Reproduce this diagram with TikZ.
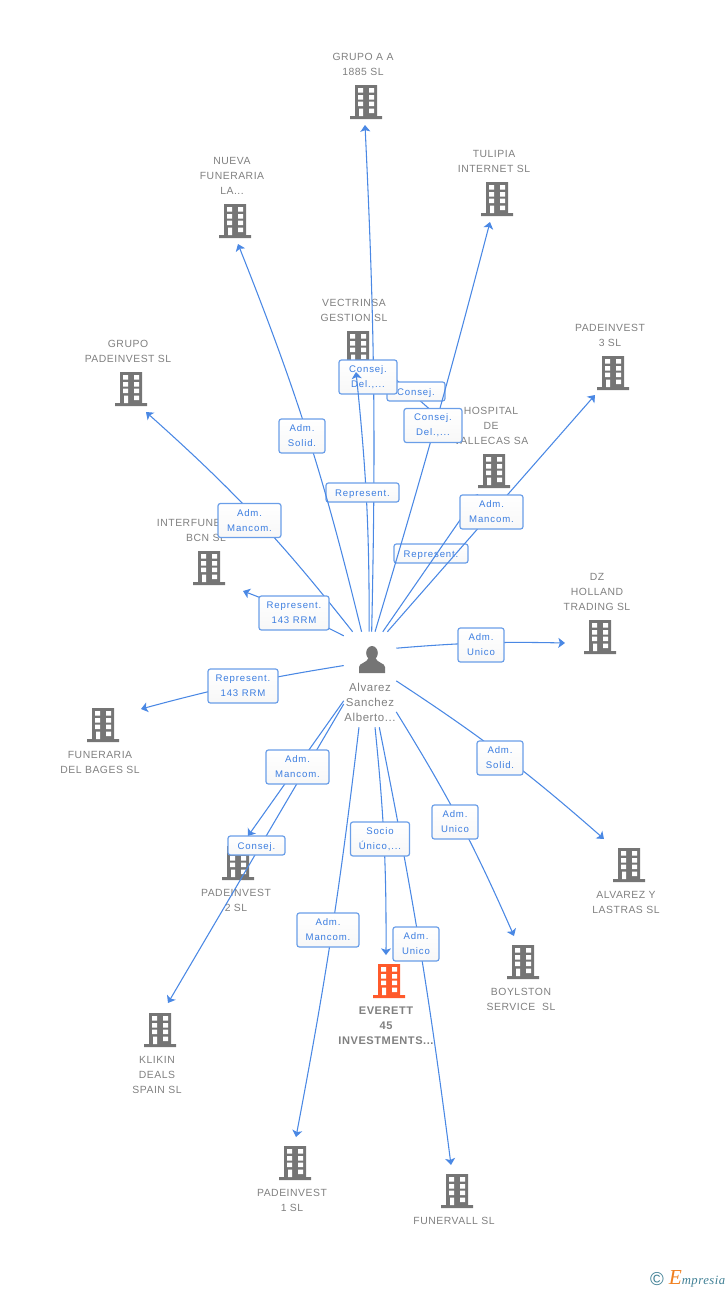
\documentclass[tikz,border=0pt]{standalone}
\usepackage{fontspec}
\setmainfont{Liberation Sans}
\newfontfamily\labelfont[LetterSpace=5]{Liberation Sans}
\newfontfamily\boxfont[LetterSpace=9]{Liberation Sans}
\newfontfamily\logofont[LetterSpace=4]{Liberation Serif}
\usetikzlibrary{arrows.meta}

\definecolor{linkblue}{HTML}{4A88E4}
\definecolor{boxline}{HTML}{6A9EE8}
\definecolor{boxtext}{HTML}{3B7DE0}
\definecolor{bldgray}{HTML}{757575}
\definecolor{namegray}{HTML}{808080}
\definecolor{bldorange}{HTML}{FF5A2B}
\definecolor{logoteal}{HTML}{3F7F94}
\definecolor{logoorange}{HTML}{F08020}

\tikzset{
    link/.style={draw=linkblue, line width=.8pt, -{Stealth[length=5pt, width=7.5pt, inset=1.2pt]}},
    stub/.style={draw=linkblue, line width=.8pt},
    relbox/.style={draw=boxline, line width=.9pt, rounded corners=1.8pt, top color=white, bottom color=black!3,
        align=center, inner sep=0pt, minimum height=25.5pt, minimum width=#1*.75pt,
        text=boxtext, font=\boxfont\fontsize{7.2}{11.25}\selectfont,
        execute at begin node={\rule{0pt}{7pt}}},
    onerow/.style={minimum height=14.25pt},
    compname/.style={align=center, inner sep=0pt, yshift=-.75pt, text=namegray, font=\labelfont\fontsize{7.8}{11.25}\selectfont},
    building/.pic={
        \fill[pic actions] (-11,-34) rectangle (11,-3) (-16,-3) rectangle (16,0);
        \fill[white] (-8,-31) rectangle (-3,-26.5) (3,-31) rectangle (8,-26.5)
            (-8,-24) rectangle (-3,-19.5) (3,-24) rectangle (8,-19.5)
            (-8,-17.5) rectangle (-3,-13) (3,-17.5) rectangle (8,-13)
            (-7,-10.5) rectangle (-3,-3) (3,-10.5) rectangle (8,-6);
    },
    personicon/.pic={
        \fill[bldgray] (0,-7) circle [x radius=5.8, y radius=7];
        \fill[bldgray] (-13,13) -- (-13,7) .. controls (-13,3) and (-5,3) .. (-3.5,-2) -- (3.5,-2)
            .. controls (5,3) and (13,3) .. (13,7) -- (13,13) -- cycle;
    }
}

\begin{document}
\begin{tikzpicture}[x=.75pt, y=-.75pt]
    \useasboundingbox (0,0) rectangle (728,1290);

    % companies
    \draw [compname] (363, 63.5) node (nameGrupoA) {GRUPO A A\\1885 SL};
    \pic [fill=bldgray] (bldGrupoA) at (366, 119) {building};
    \draw [compname] (232, 175) node (nameNueva) {NUEVA\\FUNERARIA\\LA...};
    \pic [fill=bldgray] (bldNueva) at (235, 238) {building};
    \draw [compname] (494, 160.5) node (nameTulipia) {TULIPIA\\INTERNET SL};
    \pic [fill=bldgray] (bldTulipia) at (497, 216) {building};
    \draw [compname] (354, 309.5) node (nameVectrinsa) {VECTRINSA\\GESTION SL};
    \pic [fill=bldgray] (bldVectrinsa) at (358, 365) {building};
    \draw [compname] (128, 350.5) node (nameGrupoPad) {GRUPO\\PADEINVEST SL};
    \pic [fill=bldgray] (bldGrupoPad) at (131, 406) {building};
    \draw [compname] (610, 334.5) node (namePadTres) {PADEINVEST\\3 SL};
    \pic [fill=bldgray] (bldPadTres) at (613, 390) {building};
    \draw [compname] (491, 425) node (nameHospital) {HOSPITAL\\DE\\VALLECAS SA};
    \pic [fill=bldgray] (bldHospital) at (494, 488) {building};
    \draw [compname] (206, 529.5) node (nameInterfun) {INTERFUNERARIA\\BCN SL};
    \pic [fill=bldgray] (bldInterfun) at (209, 585) {building};
    \draw [compname] (597, 591) node (nameHolland) {DZ\\HOLLAND\\TRADING SL};
    \pic [fill=bldgray] (bldHolland) at (600, 654) {building};
    \draw [compname] (100, 761.5) node (nameBages) {FUNERARIA\\DEL BAGES SL};
    \pic [fill=bldgray] (bldBages) at (103, 742) {building};
    \draw [compname] (626, 901.5) node (nameLastras) {ALVAREZ Y\\LASTRAS SL};
    \pic [fill=bldgray] (bldLastras) at (629, 882) {building};
    \draw [compname] (521, 998.5) node (nameBoylston) {BOYLSTON\\SERVICE\ \ SL};
    \pic [fill=bldgray] (bldBoylston) at (523, 979) {building};
    \draw [compname] (236, 899.5) node (namePadDos) {PADEINVEST\\2 SL};
    \pic [fill=bldgray] (bldPadDos) at (238, 880) {building};
    \draw [compname] (157, 1074) node (nameKlikin) {KLIKIN\\DEALS\\SPAIN SL};
    \pic [fill=bldgray] (bldKlikin) at (160, 1047) {building};
    \draw [compname] (292, 1199.5) node (namePadUno) {PADEINVEST\\1 SL};
    \pic [fill=bldgray] (bldPadUno) at (295, 1180) {building};
    \draw [compname] (454, 1220) node (nameFunervall) {FUNERVALL SL};
    \pic [fill=bldgray] (bldFunervall) at (457, 1208) {building};
    \draw [compname, font=\labelfont\bfseries\fontsize{8.3}{11.25}\selectfont] (386, 1025) node (nameEverett) {EVERETT\\45\\INVESTMENTS...};
    \pic [fill=bldorange] (bldEverett) at (389, 998) {building};

    % person
    \draw (370, 679.5) node (person) [inner sep=0pt, minimum width=39pt, minimum height=71.25pt] {};
    \pic (iconPerson) at (372, 660) {personicon};
    \draw [compname, font=\labelfont\fontsize{8.6}{11.25}\selectfont] (370, 701) node (namePerson) {Alvarez\\Sanchez\\Alberto...};

    % arrow ends
    \coordinate (endGrupoA) at (365, 125);
    \coordinate (endNueva) at (238, 244);
    \coordinate (endTulipia) at (490, 222);
    \coordinate (endVectrinsa) at (356, 372);
    \coordinate (endGrupoPad) at (146, 412);
    \coordinate (endPadTres) at (595, 395);
    \coordinate (endHospital) at (478, 494);
    \coordinate (endInterfun) at (243, 591);
    \coordinate (endHolland) at (565, 643);
    \coordinate (endBages) at (141, 709);
    \coordinate (endLastras) at (604, 839);
    \coordinate (endBoylston) at (514, 936);
    \coordinate (endPadDos) at (248, 836);
    \coordinate (endEverett) at (386, 955);
    \coordinate (endKlikin) at (168, 1003);
    \coordinate (endPadUno) at (296, 1137);
    \coordinate (endFunervall) at (451, 1165);
    \coordinate (stubIn) at (392, 376);
    \coordinate (stubOut) at (434, 413);

    % upper links and boxes, back to front
    \draw [link] (person.88.8) to[bend right=2] (endGrupoA);
    \draw [stub] (stubIn) -- (stubOut);
    \draw (416, 391.5) node (boxConsejB) [relbox=58, onerow] {Consej.};
    \draw (368, 377) node (boxDelA) [relbox=58] {Consej.\\Del.,...};
    \draw [link] (person.91.2) to[bend right=3] (endVectrinsa);
    \draw (362.5, 492.5) node (boxReprA) [relbox=73, onerow] {Represent.};
    \draw (431, 553.5) node (boxReprB) [relbox=74, onerow] {Represent.};
    \draw [link] (person.84) to[bend right=1] (endTulipia);
    \draw [link] (person.75.8) -- (endHospital);
    \draw [link] (person.70.3) -- (endPadTres);
    \draw (433, 425.5) node (boxDelB) [relbox=58] {Consej.\\Del.,...};
    \draw (491.5, 512) node (boxMancomA) [relbox=63] {Adm.\\Mancom.};

    % left links and boxes
    \draw [link] (person.100.7) to[bend right=4] (endNueva);
    \draw (302, 436) node (boxSolidA) [relbox=46] {Adm.\\Solid.};
    \draw [link] (person.110.8) to[bend right=5] (endGrupoPad);
    \draw (249.5, 520.5) node (boxMancomB) [relbox=63] {Adm.\\Mancom.};
    \draw [link] (person.121.5) to[bend right=3] (endInterfun);
    \draw (294, 613) node (boxRrmA) [relbox=70] {Represent.\\143 RRM};
    \draw [link] (person.152.6) to[bend right=3] (endBages);
    \draw (243, 686) node (boxRrmB) [relbox=70] {Represent.\\143 RRM};

    % right links and boxes
    \draw [link] (person.50.5) to[bend left=3] (endHolland);
    \draw (481, 645) node (boxUnicoA) [relbox=46] {Adm.\\Unico};
    \draw [link] (person.-3.3) to[bend left=4] (endLastras);
    \draw (500, 758) node (boxSolidB) [relbox=46] {Adm.\\Solid.};
    \draw [link] (person.-51.3) to[bend left=4] (endBoylston);
    \draw (455, 822) node (boxUnicoB) [relbox=46] {Adm.\\Unico};

    % lower links and boxes
    \draw [link] (person.219.6) -- (endPadDos);
    \draw [link] (person.223.3) -- (endKlikin);
    \draw (297.5, 767) node (boxMancomC) [relbox=63] {Adm.\\Mancom.};
    \draw (256.5, 845.5) node (boxConsejC) [relbox=57, onerow] {Consej.};
    \draw [link] (person.257) to[bend left=2] (endPadUno);
    \draw (328, 930) node (boxMancomD) [relbox=62] {Adm.\\Mancom.};
    \draw [link] (person.276) to[bend left=3] (endEverett);
    \draw [link] (person.281.9) to[bend left=2] (endFunervall);
    \draw (380, 839) node (boxSocio) [relbox=59] {Socio\\Único,...};
    \draw (416, 944) node (boxUnicoC) [relbox=46] {Adm.\\Unico};

    % logo
    \draw (657, 1279) node (logoMark) [inner sep=0pt, text=logoteal, font=\fontsize{14}{14}\selectfont] {©};
    \draw (697, 1279) node (logoName) [inner sep=0pt, text=logoteal, font=\logofont\itshape\fontsize{9.5}{12}\selectfont] {\textcolor{logoorange}{\fontsize{16}{12}\selectfont E}mpresia};
\end{tikzpicture}
\end{document}
